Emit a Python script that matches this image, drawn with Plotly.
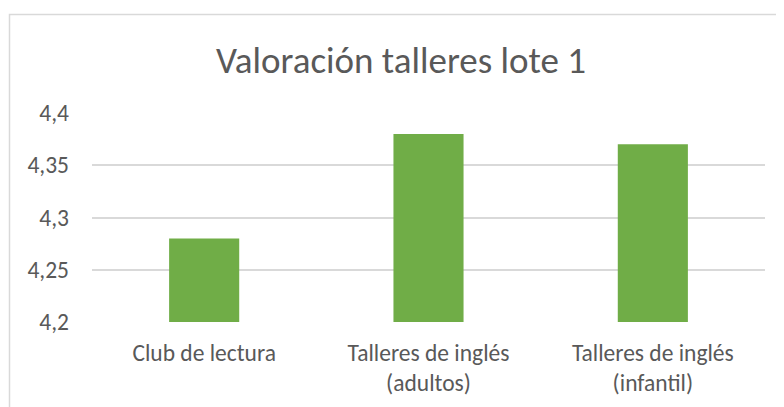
import plotly.graph_objects as go

categories = ["Club de lectura", "Talleres de inglés<br>(adultos)", "Talleres de inglés<br>(infantil)"]
values = [4.28, 4.38, 4.37]
title_text = "Valoración talleres lote 1"

# page has an 8px body margin, so the figure is sized/positioned accordingly
W, H = 776, 399
ml, mr, mt, mb = 84, 19, 105, 85
pw = W - ml - mr
ph = H - mt - mb

def px_to_paper_x(px):
    return (px - ml) / pw

def px_to_paper_y(py):
    return (H - mb - py) / ph

font_family = "Carlito, Calibri, 'Noto Sans', 'Open Sans', sans-serif"

fig = go.Figure(go.Bar(
    x=categories, y=values, marker=dict(color="#70AD47", line=dict(width=0)),
    hoverinfo="skip",
))

fig.update_layout(
    width=W, height=H,
    margin=dict(l=ml, r=mr, t=mt, b=mb, autoexpand=False),
    paper_bgcolor="white", plot_bgcolor="white",
    separators=",.",
    bargap=0.6875,
    showlegend=False,
    font=dict(family=font_family, color="#595959"),
    title=dict(text=title_text, x=px_to_paper_x(393), xref="paper", xanchor="center",
               y=1 - 52 / H, yanchor="middle",
               font=dict(size=37, color="#595959", family=font_family)),
    xaxis=dict(showgrid=False, showline=False, ticks="", tickfont=dict(size=23.5, color="#595959"),
               ticklabelstandoff=14, automargin=False),
    yaxis=dict(range=[4.2, 4.4], dtick=0.05, tick0=4.2, showgrid=True, gridcolor="#D9D9D9",
               gridwidth=1.5, zeroline=False, showline=False, ticks="",
               tickfont=dict(size=23.5, color="#595959"), ticklabelstandoff=22, automargin=False),
    shapes=[dict(type="rect", xref="paper", yref="paper",
                 x0=px_to_paper_x(1.5), x1=px_to_paper_x(800),
                 y0=px_to_paper_y(420), y1=px_to_paper_y(6.5),
                 line=dict(color="#D9D9D9", width=1.5), fillcolor="rgba(0,0,0,0)", layer="below")],
)

fig.write_html("out.html")
